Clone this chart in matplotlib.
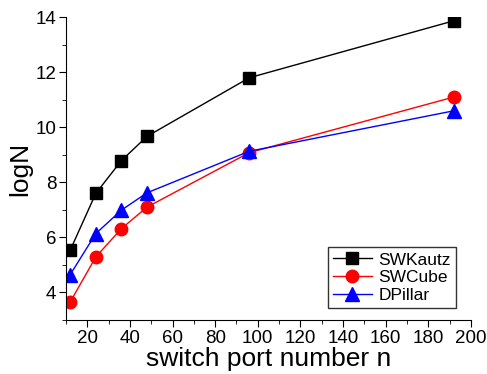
import matplotlib
matplotlib.use("Agg")
import matplotlib.pyplot as plt
from matplotlib.ticker import MultipleLocator

# Data
ports = [12, 24, 36, 48, 96, 192]
swkautz = [5.54, 7.6, 8.79, 9.67, 11.8, 13.87]
swcube = [3.66, 5.29, 6.32, 7.1, 9.08, 11.1]
dpillar = [4.65, 6.14, 6.99, 7.62, 9.13, 10.6]

plt.rcParams["font.family"] = ["Liberation Sans", "DejaVu Sans"]

fig = plt.figure(figsize=(4.87, 3.74), dpi=100)
ax = fig.add_axes([0.1355, 0.1444, 0.8315, 0.8096])

ax.plot(ports, swkautz, color="black", marker="s", markersize=8.5, lw=1, label="SWKautz")
ax.plot(ports, swcube, color="red", marker="o", markersize=9, lw=1, label="SWCube")
ax.plot(ports, dpillar, color="blue", marker="^", markersize=9.5, lw=1, label="DPillar")

ax.set_xlim(10, 200)
ax.set_ylim(3, 14)
ax.xaxis.set_minor_locator(MultipleLocator(10))
ax.yaxis.set_minor_locator(MultipleLocator(1))
ax.set_xticks(range(20, 201, 20))
ax.set_yticks(range(4, 15, 2))

ax.spines["top"].set_visible(False)
ax.spines["right"].set_visible(False)
ax.tick_params(which="major", direction="out", length=5, labelsize=13.5, pad=2)
ax.tick_params(which="minor", direction="out", length=3)

ax.set_xlabel("switch port number n", fontsize=19, labelpad=0)
ax.set_ylabel("logN", fontsize=19, labelpad=2)

leg = ax.legend(loc="lower right", fontsize=12.5, frameon=True, fancybox=False,
                edgecolor="black", handlelength=2.2, handletextpad=0.4,
                borderpad=0.3, labelspacing=0.15, bbox_to_anchor=(0.985, 0.01))
leg.get_frame().set_linewidth(1)

fig.savefig("out.png", dpi=100)
